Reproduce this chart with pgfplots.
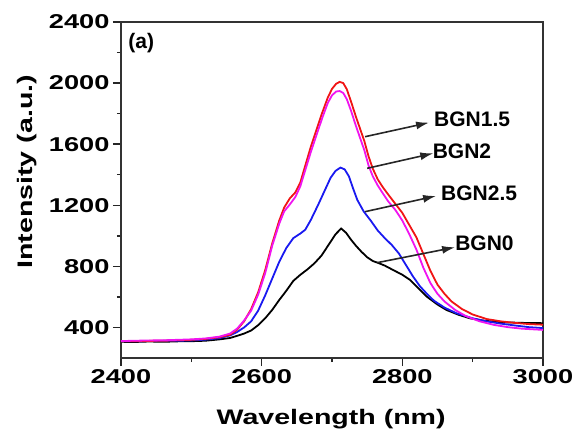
\documentclass[border=0pt]{standalone}
\usepackage{fontspec}
\setmainfont{Liberation Sans}
\newfontfamily\stretchfont{Liberation Sans}[FakeStretch=1.36]
\usepackage{pgfplots}
\pgfplotsset{compat=1.18}
\usetikzlibrary{arrows.meta}
\definecolor{cred}{RGB}{240,20,20}
\definecolor{cmag}{RGB}{240,20,240}
\definecolor{cblue}{RGB}{25,25,240}
\begin{document}
\begin{tikzpicture}
\path[use as bounding box] (-121pt,-81pt) rectangle (456pt,358pt);
\begin{axis}[
  scale only axis, width=422pt, height=336pt,
  xmin=2400, xmax=3000, ymin=200, ymax=2400,
  xtick={2400,2600,2800,3000}, ytick={400,800,1200,1600,2000,2400},
  minor x tick num=1, minor y tick num=1,
  xtick pos=left, ytick pos=left,
  tick align=outside,
  major tick length=8pt, minor tick length=4pt,
  every tick/.style={line width=1.4pt, black!85},
  axis line style={line width=1.6pt, black!80},
  /pgf/number format/1000 sep={},
  /pgf/number format/assume math mode=true,
  ticklabel style={font=\stretchfont\bfseries\fontsize{20}{24}\selectfont},
  xlabel={Wavelength (nm)}, ylabel={Intensity (a.u.)},
  label style={font=\stretchfont\bfseries\fontsize{21}{25}\selectfont},
  xlabel style={at={(axis description cs:0.498,-0.199)}, anchor=base},
  ylabel style={at={(axis description cs:-0.223,0.554)}, anchor=center},
  clip=true,
]
% BGN0
\addplot[black, line width=1.8pt] coordinates {
(2400,306)(2420,305)(2440,308)(2460,306)(2480,309)(2500,310)(2520,313)(2540,322)(2555,331)(2565,345)(2575,360)(2585,380)(2595,415)(2605,460)(2615,515)(2625,580)(2635,640)(2645,705)(2655,745)(2665,780)(2675,820)(2685,870)(2695,940)(2705,1010)(2713,1048)(2720,1020)(2727,975)(2734,935)(2742,895)(2750,860)(2758,835)(2766,822)(2775,805)(2787,776)(2800,745)(2811,711)(2822,660)(2835,601)(2850,550)(2863,514)(2880,483)(2896,460)(2915,445)(2930,438)(2950,433)(2970,430)(3000,428)};
% BGN2.5
\addplot[cblue, line width=1.8pt] coordinates {
(2400,309)(2420,310)(2440,311)(2460,312)(2480,313)(2500,315)(2520,320)(2540,330)(2555,348)(2565,370)(2575,400)(2585,440)(2595,510)(2605,610)(2615,720)(2625,830)(2635,920)(2645,985)(2655,1015)(2662,1040)(2670,1105)(2680,1200)(2690,1300)(2698,1380)(2705,1425)(2712,1447)(2718,1435)(2724,1390)(2730,1310)(2736,1235)(2745,1160)(2755,1100)(2765,1035)(2775,985)(2785,940)(2795,885)(2805,810)(2815,735)(2825,670)(2835,620)(2845,575)(2860,530)(2877,493)(2900,460)(2920,440)(2940,425)(2960,413)(2980,402)(3000,396)};
% BGN1.5
\addplot[cred, line width=1.8pt] coordinates {
(2400,309)(2420,310)(2440,312)(2460,313)(2480,316)(2500,319)(2520,325)(2540,336)(2555,352)(2565,385)(2575,440)(2585,520)(2595,630)(2605,775)(2615,950)(2625,1100)(2632,1185)(2640,1245)(2648,1285)(2655,1350)(2662,1460)(2670,1585)(2678,1695)(2686,1805)(2694,1905)(2700,1962)(2706,1996)(2711,2008)(2716,2000)(2721,1960)(2727,1880)(2734,1780)(2740,1700)(2746,1620)(2752,1520)(2758,1440)(2765,1370)(2772,1320)(2780,1270)(2790,1210)(2800,1150)(2810,1070)(2820,990)(2830,880)(2840,770)(2850,680)(2860,620)(2870,570)(2885,520)(2900,485)(2920,455)(2940,440)(2960,430)(2980,422)(3000,418)};
% BGN2
\addplot[cmag, line width=1.8pt] coordinates {
(2400,311)(2420,313)(2440,315)(2460,316)(2480,319)(2500,322)(2520,328)(2540,340)(2555,360)(2565,392)(2575,445)(2585,510)(2595,615)(2605,755)(2615,935)(2625,1080)(2632,1160)(2640,1205)(2648,1255)(2655,1325)(2662,1430)(2670,1550)(2678,1660)(2686,1770)(2694,1870)(2700,1920)(2706,1945)(2711,1948)(2716,1935)(2721,1895)(2727,1820)(2734,1720)(2740,1640)(2746,1560)(2752,1460)(2758,1390)(2765,1330)(2772,1280)(2780,1225)(2790,1170)(2800,1100)(2810,1010)(2820,910)(2830,790)(2840,690)(2850,620)(2860,570)(2875,515)(2890,475)(2910,440)(2930,417)(2950,402)(2970,392)(3000,384)};
% annotations
\tikzset{arr/.style={-{Latex[length=13pt,width=8pt]}, line width=1.6pt, black!85}}
\draw[arr] (axis cs:2747,1649) -- (axis cs:2838,1741);
\draw[arr] (axis cs:2750,1442) -- (axis cs:2844,1540);
\draw[arr] (axis cs:2747,1158) -- (axis cs:2848,1261);
\draw[arr] (axis cs:2764,824) -- (axis cs:2875,925);
\tikzset{lab/.style={anchor=west, inner sep=0pt, font=\bfseries\fontsize{21}{25}\selectfont}}
\node[lab] at (axis cs:2845,1765) {BGN1.5};
\node[lab] at (axis cs:2843,1551) {BGN2};
\node[lab] at (axis cs:2855,1278) {BGN2.5};
\node[lab] at (axis cs:2875,951) {BGN0};
\node[lab] at (axis description cs:0.017,0.9375) {(a)};
\end{axis}
\end{tikzpicture}
\end{document}
